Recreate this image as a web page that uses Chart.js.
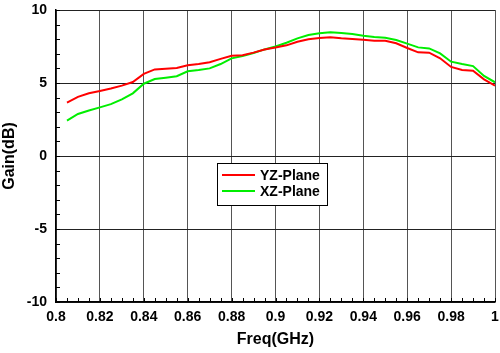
<!DOCTYPE html>
<html>
<head>
<meta charset="utf-8">
<script src="https://cdn.jsdelivr.net/npm/chart.js@4.4.1/dist/chart.umd.min.js"></script>
<style>
  html, body { margin: 0; padding: 0; background: #fff; }
  #wrap { width: 500px; height: 353px; }
</style>
</head>
<body>
<div id="wrap"><canvas id="gainChart" width="500" height="353"></canvas></div>
<script>
// Frecuencias medidas (GHz)
const freq = [
  0.805, 0.81, 0.815, 0.82, 0.825, 0.83, 0.835, 0.84, 0.845, 0.85,
  0.855, 0.86, 0.865, 0.87, 0.875, 0.88, 0.885, 0.89, 0.895, 0.9,
  0.905, 0.91, 0.915, 0.92, 0.925, 0.93, 0.935, 0.94, 0.945, 0.95,
  0.955, 0.96, 0.965, 0.97, 0.975, 0.98, 0.985, 0.99, 0.995, 1.0
];

// Ganancia plano YZ (dB)
const gainYZ = [
  3.65, 4.05, 4.3, 4.45, 4.62, 4.82, 5.07, 5.62, 5.93, 5.98,
  6.03, 6.22, 6.3, 6.42, 6.65, 6.87, 6.9, 7.08, 7.3, 7.43,
  7.58, 7.83, 7.99, 8.08, 8.13, 8.06, 8.01, 7.97, 7.9, 7.9,
  7.72, 7.4, 7.1, 7.08, 6.69, 6.1, 5.89, 5.84, 5.25, 4.82
];

// Ganancia plano XZ (dB)
const gainXZ = [
  2.42, 2.88, 3.12, 3.33, 3.55, 3.88, 4.29, 4.95, 5.27, 5.36,
  5.46, 5.8, 5.89, 6.0, 6.3, 6.69, 6.85, 7.06, 7.3, 7.5,
  7.76, 8.06, 8.29, 8.4, 8.47, 8.43, 8.36, 8.24, 8.15, 8.1,
  7.95, 7.7, 7.44, 7.37, 7.03, 6.46, 6.3, 6.16, 5.48, 5.05
];

const seriesLabels = ["YZ-Plane", "XZ-Plane"];
const xTitle = "Freq(GHz)";
const yTitle = "Gain(dB)";

const FONT = "'Liberation Sans', Arial, sans-serif";

// Marcas menores hacia adentro en los ejes inferior e izquierdo
const minorTicks = {
  id: "minorTicks",
  afterDatasetsDraw(chart) {
    const { ctx, chartArea, scales } = chart;
    ctx.save();
    ctx.strokeStyle = "#000";
    ctx.lineWidth = 1;
    ctx.beginPath();
    for (let i = 0; i <= 40; i++) {
      const px = Math.round(scales.x.getPixelForValue(0.8 + i * 0.005)) + 0.5;
      ctx.moveTo(px, chartArea.bottom);
      ctx.lineTo(px, chartArea.bottom - 4);
    }
    for (let v = -10; v <= 10; v++) {
      const py = Math.round(scales.y.getPixelForValue(v)) + 0.5;
      ctx.moveTo(chartArea.left, py);
      ctx.lineTo(chartArea.left + 4, py);
    }
    ctx.stroke();
    ctx.restore();
  },
};

// Leyenda dentro del área de la gráfica
const boxLegend = {
  id: "boxLegend",
  afterDraw(chart) {
    const { ctx } = chart;
    const x = 217, y = 163, w = 110, h = 42;
    ctx.save();
    ctx.fillStyle = "#fff";
    ctx.fillRect(x, y, w, h);
    ctx.strokeStyle = "#000";
    ctx.lineWidth = 1;
    ctx.strokeRect(x + 0.5, y + 0.5, w, h);
    ctx.font = "bold 14px " + FONT;
    ctx.textBaseline = "middle";
    chart.data.datasets.forEach((ds, i) => {
      const ly = y + 12 + i * 16;
      ctx.strokeStyle = ds.borderColor;
      ctx.lineWidth = 2;
      ctx.beginPath();
      ctx.moveTo(x + 5, ly);
      ctx.lineTo(x + 38, ly);
      ctx.stroke();
      ctx.fillStyle = "#000";
      ctx.fillText(ds.label, x + 43, ly + 1);
    });
    ctx.restore();
  },
};

const ctx = document.getElementById("gainChart").getContext("2d");
new Chart(ctx, {
  type: "line",
  data: {
    datasets: [
      {
        label: seriesLabels[0],
        data: freq.map((f, i) => ({ x: f, y: gainYZ[i] })),
        borderColor: "#ff0000",
        borderWidth: 2,
        pointRadius: 0,
        tension: 0,
      },
      {
        label: seriesLabels[1],
        data: freq.map((f, i) => ({ x: f, y: gainXZ[i] })),
        borderColor: "#00ee00",
        borderWidth: 2,
        pointRadius: 0,
        tension: 0,
      },
    ],
  },
  options: {
    responsive: false,
    animation: false,
    layout: { padding: { top: 10, right: 5, left: 0, bottom: 0 } },
    plugins: {
      legend: { display: false },
      tooltip: { enabled: false },
    },
    scales: {
      x: {
        type: "linear",
        min: 0.8,
        max: 1,
        afterFit: (scale) => {
          scale.height = 51;
          scale.paddingLeft = 0;
          scale.paddingRight = 0;
        },
        ticks: {
          stepSize: 0.02,
          padding: 7,
          color: "#000",
          font: { family: FONT, size: 14, weight: "bold" },
          callback: (v) => String(+v.toFixed(2)),
          maxRotation: 0,
        },
        grid: { color: "#555", lineWidth: 1, drawTicks: false },
        border: { color: "#000", width: 1.5 },
        title: {
          display: true,
          text: xTitle,
          color: "#000",
          font: { family: FONT, size: 16, weight: "bold" },
          padding: { top: 2 },
        },
      },
      y: {
        min: -10,
        max: 10,
        afterFit: (scale) => {
          scale.width = 56;
          scale.paddingTop = 0;
          scale.paddingBottom = 0;
        },
        ticks: {
          stepSize: 5,
          padding: 9,
          color: "#000",
          font: { family: FONT, size: 14, weight: "bold" },
        },
        grid: { color: "#222", lineWidth: 1, drawTicks: false },
        border: { color: "#000", width: 1.5 },
        title: {
          display: true,
          text: yTitle,
          color: "#000",
          font: { family: FONT, size: 16, weight: "bold" },
          padding: 0,
        },
      },
    },
  },
  plugins: [minorTicks, boxLegend],
});
</script>
</body>
</html>
